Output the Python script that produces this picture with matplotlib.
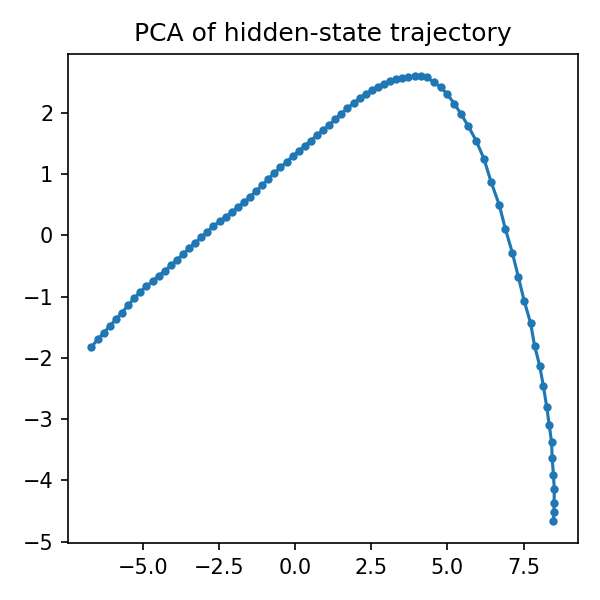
import matplotlib
matplotlib.use("Agg")
import matplotlib.pyplot as plt

left_x = [-6.70,-6.48,-6.28,-6.08,-5.88,-5.68,-5.48,-5.28,-5.08,-4.88,-4.68,-4.48,-4.28,-4.08,-3.88,-3.68,-3.48,-3.28,-3.08,-2.88,-2.68,-2.48,-2.28,-2.08,-1.88,-1.68,-1.48,-1.28,-1.08,-0.88,-0.68,-0.48,-0.28,-0.08,0.12,0.32,0.52,0.72,0.92,1.12,1.32,1.52,1.72,1.92,2.12,2.32,2.52,2.72,2.92,3.12,3.32,3.52,3.72,3.92,4.12]
left_y = [-1.83,-1.70,-1.59,-1.48,-1.37,-1.26,-1.14,-1.03,-0.92,-0.83,-0.75,-0.66,-0.58,-0.49,-0.40,-0.31,-0.21,-0.12,-0.03,0.06,0.15,0.23,0.30,0.38,0.46,0.54,0.63,0.72,0.82,0.92,1.02,1.11,1.20,1.29,1.38,1.46,1.55,1.64,1.72,1.80,1.90,1.99,2.08,2.16,2.24,2.31,2.37,2.43,2.48,2.52,2.55,2.57,2.59,2.60,2.60]
right_x = [4.33,4.56,4.78,4.99,5.23,5.45,5.69,5.95,6.20,6.43,6.70,6.90,7.13,7.33,7.52,7.73,7.86,8.03,8.15,8.26,8.34,8.42,8.44,8.48,8.51,8.50,8.50,8.48]
right_y = [2.58,2.50,2.42,2.31,2.15,1.98,1.78,1.54,1.25,0.88,0.50,0.11,-0.28,-0.68,-1.07,-1.43,-1.80,-2.13,-2.46,-2.80,-3.09,-3.38,-3.64,-3.91,-4.15,-4.37,-4.52,-4.66]

xs = left_x + right_x
ys = left_y + right_y

fig = plt.figure(figsize=(4, 4), dpi=150)
ax = fig.add_subplot(111)
ax.plot(xs, ys, "-o", color="#1f77b4", markersize=3, linewidth=1.5)
ax.set_title("PCA of hidden-state trajectory")
fig.tight_layout()
fig.savefig("out.png", dpi=150)
